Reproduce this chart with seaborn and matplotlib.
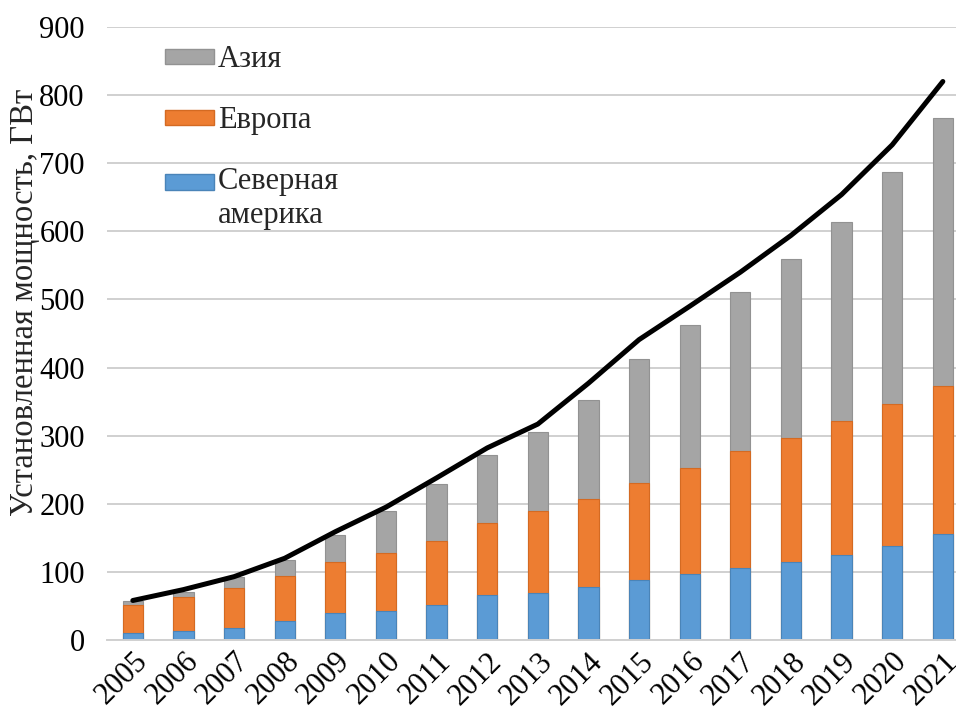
"""Installed capacity by region: stacked bars with total line."""

import matplotlib.pyplot as plt
import numpy as np
import pandas as pd
import seaborn as sns
from matplotlib.legend_handler import HandlerPatch
from matplotlib.patches import Patch, Rectangle

years = [str(y) for y in range(2005, 2022)]
north_america = [10, 13, 18, 28, 39, 43, 52, 66, 69, 78, 88, 97, 105, 114, 125, 138, 155]
europe = [41, 50, 58, 66, 76, 85, 94, 106, 120, 129, 143, 156, 172, 183, 196, 208, 218]
asia = [6, 7, 16, 23, 39, 62, 83, 99, 117, 145, 182, 210, 234, 262, 292, 341, 393]
total_line = [58, 74, 93, 120, 159, 195, 238, 282, 317, 377, 441, 490, 540, 594, 654, 727, 820]

COLORS = {"asia": "#A5A5A5", "europe": "#ED7D31", "na": "#5B9BD5"}
EDGES = {"asia": "#929292", "europe": "#D46A22", "na": "#4A84B8"}


class TopAlignedPatch(HandlerPatch):
    """Legend patch lifted to sit next to the first line of a two-line label."""

    def create_artists(self, legend, orig_handle, xdescent, ydescent, width, height,
                       fontsize, trans):
        shift = 0.55 * fontsize
        p = Rectangle((-xdescent, -ydescent + shift), width, height)
        self.update_prop(p, orig_handle, legend)
        p.set_transform(trans)
        return [p]


sns.set_theme(style="white")
plt.rcParams["font.family"] = ["Liberation Serif", "DejaVu Serif"]

df = pd.DataFrame({
    "year": years,
    "na": north_america,
    "eu_top": np.array(north_america) + np.array(europe),
    "asia_top": np.array(north_america) + np.array(europe) + np.array(asia),
})

fig = plt.figure(figsize=(9.56, 7.13), dpi=100)
ax = fig.add_axes([107 / 956, 73 / 713, 1 - 107 / 956, 613 / 713])

for col, key in [("asia_top", "asia"), ("eu_top", "europe"), ("na", "na")]:
    sns.barplot(data=df, x="year", y=col, color=COLORS[key], width=0.4,
                edgecolor=EDGES[key], linewidth=0.8, saturation=1, ax=ax, zorder=2)

sns.lineplot(x=np.arange(len(years)), y=total_line, color="black", linewidth=3.6,
             ax=ax, zorder=3)

ax.set_xlim(-0.51, 16.26)
ax.set_ylim(0, 900)
ax.set_yticks(range(0, 901, 100))
ax.yaxis.grid(True, color="#D0D0D0", linewidth=1.4, zorder=0)
ax.set_axisbelow(True)
for side in ["top", "right", "left"]:
    ax.spines[side].set_visible(False)
ax.spines["bottom"].set_color("#D0D0D0")
ax.spines["bottom"].set_linewidth(1.4)
ax.tick_params(axis="both", length=0, labelsize=22, colors="black")
ax.tick_params(axis="y", pad=16)
ax.tick_params(axis="x", pad=5)
plt.setp(ax.get_xticklabels(), rotation=45, ha="right", rotation_mode="anchor")
ax.set_xlabel("")
ax.set_ylabel("Установленная мощность, ГВт", fontsize=23.5)
ax.yaxis.set_label_coords(-0.079, 0.551)

na_patch = Patch(facecolor=COLORS["na"], edgecolor=EDGES["na"], label="Северная\nамерика")
handles = [
    Patch(facecolor=COLORS["asia"], edgecolor=EDGES["asia"], label="Азия"),
    Patch(facecolor=COLORS["europe"], edgecolor=EDGES["europe"], label="Европа"),
    na_patch,
]
ax.legend(handles=handles, loc="upper left", bbox_to_anchor=(0.047, 1.0), frameon=False,
          fontsize=22, handlelength=1.6, handleheight=0.4, handletextpad=0.12,
          labelspacing=1.05, borderaxespad=0.2,
          handler_map={na_patch: TopAlignedPatch()})

fig.savefig("out.png", dpi=100)
plt.close(fig)
